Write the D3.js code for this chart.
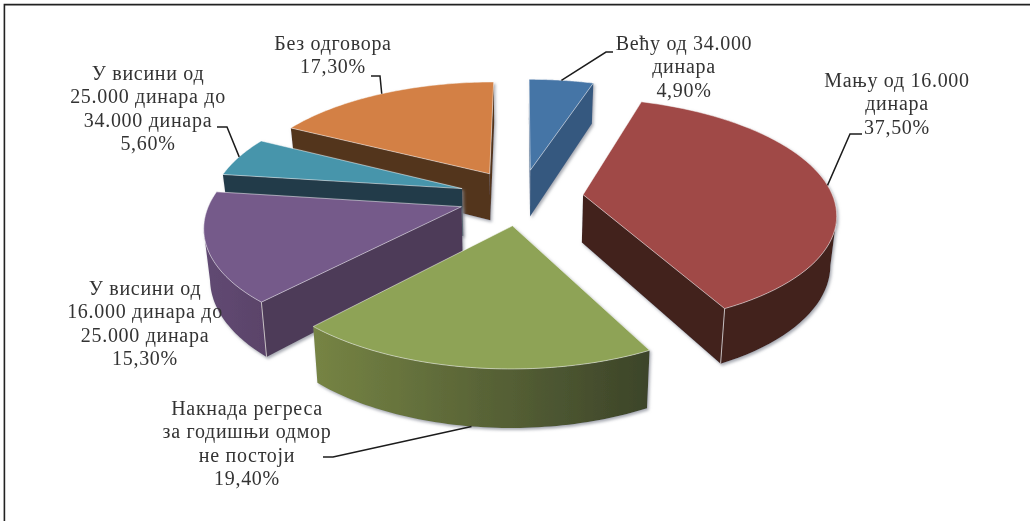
<!DOCTYPE html>
<html><head><meta charset="utf-8">
<script src="https://cdn.jsdelivr.net/npm/d3@7"></script>
<style>html,body{margin:0;padding:0;background:#fff}svg{display:block;filter:blur(.5px)}
text{font-family:"Liberation Serif",serif;font-size:20px;letter-spacing:.7px;fill:#333;text-anchor:middle}</style>
</head><body><svg id="c" width="1030" height="521"></svg>
<script>
// --- data
const categories = [
  ["Већу од 34.000","динара"],
  ["Мању од 16.000","динара"],
  ["Накнада регреса","за годишњи одмор","не постоји"],
  ["У висини од","16.000 динара до","25.000 динара"],
  ["У висини од","25.000 динара до","34.000 динара"],
  ["Без одговора"]
];
const percentLabels = ["4,90%","37,50%","19,40%","15,30%","5,60%","17,30%"];
const values = [4.9,37.5,19.4,15.3,5.6,17.3];
// --- style
const topColors  = ["#4574a6","#a04a47","#8ea356","#755a8a","#4795ab","#d38044"];
const cutColors  = ["#36587f","#42231f","#4c4a2c","#4e3b59","#243b4a","#53351f"];
const rimColors  = [["#36587f","#36587f"],["#42231f","#42231f"],["#768444","#3c4429"],["#614973","#5a4369"],["#2b4654","#243b4a"],["#5a3a22","#53351f"]];
const labelCenterX = [684,897,247,145,148,333];
const labelFirstBase = [50,87,415,295,80,50];
const lineStep = 23.4;
// leader lines: start on the slice's rim at mid angle, then bend towards the label
const leaderKnee = [[606,52],[850,134],[333,457],null,[227,127],[380,76]];
const leaderEnd  = [[613,52],[862,134],[323,457],null,[217,127],[371,76]];
const drawOrder = [5,0,4,3,1,2];

const svg = d3.select("#c");
const defs = svg.append("defs");
const f = defs.append("filter").attr("id","sh").attr("x","-10%").attr("y","-10%").attr("width","120%").attr("height","120%");
f.append("feDropShadow").attr("dx",1.5).attr("dy",2).attr("stdDeviation",1.6).attr("flood-color","#8a8f99").attr("flood-opacity",.75);

// frame: left and top only, running off the picture
svg.append("path").attr("d",d3.line()([[4.4,521],[4.4,4.6],[1030,4.6]])).attr("fill","none").attr("stroke","#222").attr("stroke-width",1.6);

// --- projection of the tilted pie plane
const cx=521, cy=197, Rx=250, Ry=112, persp=0.15, explode=0.25, thick=48, shrink=0.02;
const sx=d3.scaleLinear().domain([-1,1]).range([cx-Rx,cx+Rx]);
const sy=d3.scaleLinear().domain([-1,1]).range([cy-Ry,cy+Ry]);
const proj=(u,v,drop=0)=>{
  const w=1/(1-persp*v);
  return [cx+(sx(u)-cx)*w*(1-shrink*drop/thick), cy+(sy(v)-cy)*w+drop*w];
};

const arcs=d3.pie().sort(null).startAngle(0).endAngle(2*Math.PI)(values);
const line=d3.line();
const area=d3.area().x0(d=>d[0]).y0(d=>d[1]).x1(d=>d[2]).y1(d=>d[3]);

const geo=arcs.map(a=>{
  const m=(a.startAngle+a.endAngle)/2, ou=explode*Math.sin(m), ov=-explode*Math.cos(m);
  const at=(t,drop=0)=>proj(ou+Math.sin(t),ov-Math.cos(t),drop);
  const apex=(drop=0)=>proj(ou,ov,drop);
  const ts=d3.range(0,61).map(i=>a.startAngle+(a.endAngle-a.startAngle)*i/60);
  return {a,m,at,apex,ts};
});

drawOrder.forEach(i=>{
  const g=geo[i], a=g.a;
  const s=svg.append("g").attr("filter","url(#sh)");
  const id="rim"+i;
  const lg=defs.append("linearGradient").attr("id",id).attr("x1",0).attr("x2",1).attr("y1",0).attr("y2",0);
  lg.append("stop").attr("offset",0).attr("stop-color",rimColors[i][0]);
  lg.append("stop").attr("offset",1).attr("stop-color",rimColors[i][1]);
  // cut faces that look towards the viewer
  [a.startAngle,a.endAngle].forEach(t=>{
    const P=g.apex(), Q=g.at(t), other=g.at(g.m);
    const cross=(Q[0]-P[0])*(other[1]-P[1])-(Q[1]-P[1])*(other[0]-P[0]);
    const dir=Q[0]>P[0]?1:-1;
    if(cross*dir<0){
      s.append("path").attr("d",line([P,Q,g.at(t,thick),g.apex(thick)])+"Z").attr("fill",cutColors[i]);
    }
  });
  // rim wall: only the part facing the viewer (x falls as the angle grows)
  const rimPts=g.ts.filter(t=>g.at(t+0.001)[0]<g.at(t)[0]);
  if(rimPts.length>1){
    s.append("path").attr("d",area(rimPts.map(t=>{const p=g.at(t),b=g.at(t,thick);return [p[0],p[1],b[0],b[1]];}))).attr("fill",`url(#${id})`);
    if(i===1||i===3){
      const c=i===1?a.endAngle:a.startAngle;
      s.append("path").attr("d",line([g.at(c),g.at(c,thick)])).attr("stroke","#cfc9c9").attr("stroke-width",.9).attr("fill","none");
    }
  }
  // top face
  const topPts=[g.apex(),...g.ts.map(t=>g.at(t))];
  s.append("path").attr("d",line(topPts)+"Z").attr("fill",topColors[i]).attr("stroke","#fff").attr("stroke-opacity",.55).attr("stroke-width",.9).attr("stroke-linejoin","round");
});

// leaders
values.forEach((v,i)=>{
  if(!leaderKnee[i]) return;
  const start=i===2?geo[i].at(geo[i].m,thick):geo[i].at(geo[i].m);
  svg.append("path").attr("d",line([start,leaderKnee[i],leaderEnd[i]])).attr("fill","none").attr("stroke","#1c1c1c").attr("stroke-width",1.5);
});

// labels
categories.forEach((lines,i)=>{
  const t=svg.append("text");
  [...lines,percentLabels[i]].forEach((s,j)=>{
    t.append("tspan").attr("x",labelCenterX[i]).attr("y",labelFirstBase[i]+j*lineStep).text(s);
  });
});
</script></body></html>
